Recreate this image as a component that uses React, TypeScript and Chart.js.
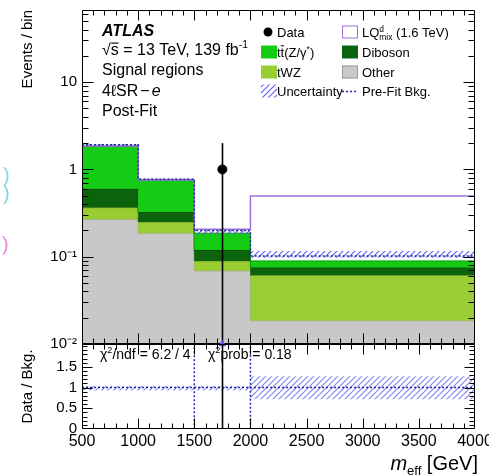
import React, { useEffect, useRef } from 'react';
import { Chart, registerables } from 'chart.js';

Chart.register(...registerables);

const FONT = "'Liberation Sans', Arial, Helvetica, sans-serif";

// ---------------- data ----------------
const binEdges = [500, 1000, 1500, 2000, 4000];
const otherYields = [0.268, 0.186, 0.069, 0.0185];
const tWZYields = [0.097, 0.064, 0.0205, 0.043];
const dibosonYields = [0.235, 0.075, 0.0295, 0.0135];
const ttZYields = [1.25, 0.43, 0.067, 0.0145];
const lqSignalYields = [0, 0, 0.02, 0.405];
const preFitBkg = [1.92, 0.77, 0.2, 0.102];
const uncertaintyLow = [1.8, 0.735, 0.18, 0.097];
const uncertaintyHigh = [1.95, 0.785, 0.205, 0.116];
const dataEvents = [0, 0, 1, 0];
const dataErrUp = [0, 0, 1.0, 0];
const dataErrDown = [0, 0, 1.0, 0];
const ratioUncLow = [0.93, 0.93, 0.93, 0.72];
const ratioUncHigh = [1.04, 1.04, 1.04, 1.27];
const preFitRatio = [1, 1, 1, 1];

const xTickValues = [500, 1000, 1500, 2000, 2500, 3000, 3500, 4000];
const xTickLabels = ['500', '1000', '1500', '2000', '2500', '3000', '3500', '4000'];
const yTickValues = [0.01, 0.1, 1, 10];
const yTickLabels = ['10\u207B\u00B2', '10\u207B\u00B9', '1', '10'];
const ratioTickValues = [0, 0.5, 1, 1.5];
const ratioTickLabels = ['0', '0.5', '1', '1.5'];

const yMin = 0.01;
const yMax = 67;
const ratioMin = 0;
const ratioMax = 2.05;
const xMinorStep = 100;
const ratioMinorStep = 0.1;

// ---------------- derived ----------------
const cumulate = (arrs: number[][]) => arrs[0].map((_, i) => arrs.reduce((s, a) => s + a[i], 0));
const stackOther = otherYields;
const stackTWZ = cumulate([otherYields, tWZYields]);
const stackDiboson = cumulate([otherYields, tWZYields, dibosonYields]);
const stackTotal = cumulate([otherYields, tWZYields, dibosonYields, ttZYields]);
const stackSignal = cumulate([stackTotal, lqSignalYields]);
const binCenters = binEdges.slice(0, -1).map((e, i) => (e + binEdges[i + 1]) / 2);
const ratioData = dataEvents.map((n, i) => n / stackTotal[i]);
// point at each low edge carries that bin's value; last edge repeats the last bin
const step = (vals: number[]) => binEdges.map((x, i) => ({ x, y: vals[Math.min(i, vals.length - 1)] }));

// ---------------- helpers ----------------
function makeHatch(ctx: CanvasRenderingContext2D, color: string, s: number) {
  const c = document.createElement('canvas');
  c.width = s;
  c.height = s;
  const g = c.getContext('2d')!;
  g.strokeStyle = color;
  g.lineWidth = 1.1;
  g.beginPath();
  g.moveTo(0, s);
  g.lineTo(s, 0);
  g.moveTo(-1, 1);
  g.lineTo(1, -1);
  g.moveTo(s - 1, s + 1);
  g.lineTo(s + 1, s - 1);
  g.stroke();
  return ctx.createPattern(c, 'repeat')!;
}

type Seg = { t: string; k?: 'sup' | 'sub'; it?: boolean; b?: boolean; hold?: boolean; bar?: number; pre?: number; post?: number };
function drawRich(ctx: CanvasRenderingContext2D, x: number, y: number, segs: Seg[], base: number) {
  let cx = x;
  for (const s of segs) {
    const size = s.k ? base * 0.65 : base;
    const dy = s.k === 'sup' ? -base * 0.42 : s.k === 'sub' ? base * 0.25 : 0;
    ctx.font = `${s.it ? 'italic ' : ''}${s.b ? 'bold ' : ''}${size}px ${FONT}`;
    cx += s.pre || 0;
    ctx.fillText(s.t, cx, y + dy);
    const w = ctx.measureText(s.t).width;
    if (s.bar) {
      ctx.fillRect(cx + w * 0.05, y - size * s.bar, w * 0.9, Math.max(1, size * 0.07));
    }
    if (!s.hold) cx += w + (s.post || 0);
  }
  return cx;
}

function logMinors(min: number, max: number) {
  const out: number[] = [];
  for (let d = Math.floor(Math.log10(min)); d <= Math.ceil(Math.log10(max)); d++) {
    for (let k = 2; k <= 9; k++) {
      const v = k * Math.pow(10, d);
      if (v > min && v < max) out.push(v);
    }
  }
  return out;
}
function linMinors(min: number, max: number, stepV: number, majors: number[]) {
  const out: number[] = [];
  for (let v = min; v <= max + 1e-9; v += stepV) {
    const r = Math.round(v * 1000) / 1000;
    if (!majors.some((m) => Math.abs(m - r) < 1e-6)) out.push(r);
  }
  return out;
}

type TickOpts = { yMajor: number[]; yMinor: number[]; xMajor: number[]; xMinor: number[]; yMaj: number; yMin: number; xMaj: number; xMin: number };
function drawFrame(ctx: CanvasRenderingContext2D, chart: any, o: TickOpts) {
  const { left, right, top, bottom } = chart.chartArea;
  const xs = chart.scales.x;
  const ys = chart.scales.y;
  const L = left + 0.5, R = right - 0.5, T = top + 0.5, B = bottom - 0.5;
  ctx.save();
  ctx.strokeStyle = '#000';
  ctx.lineWidth = 1;
  ctx.beginPath();
  ctx.rect(L, T, R - L, B - T);
  const yl: [number[], number][] = [[o.yMajor, o.yMaj], [o.yMinor, o.yMin]];
  for (const [vals, len] of yl) {
    for (const v of vals) {
      const p = Math.round(ys.getPixelForValue(v)) + 0.5;
      if (p < top || p > bottom) continue;
      ctx.moveTo(L, p); ctx.lineTo(L + len, p);
      ctx.moveTo(R, p); ctx.lineTo(R - len, p);
    }
  }
  const xl: [number[], number][] = [[o.xMajor, o.xMaj], [o.xMinor, o.xMin]];
  for (const [vals, len] of xl) {
    for (const v of vals) {
      const p = Math.round(xs.getPixelForValue(v)) + 0.5;
      if (p < left || p > right) continue;
      ctx.moveTo(p, B); ctx.lineTo(p, B - len);
      ctx.moveTo(p, T); ctx.lineTo(p, T + len);
    }
  }
  ctx.stroke();
  ctx.restore();
}

const COLORS = {
  other: '#c8c8c8', otherB: '#9c9c9c',
  twz: '#9acd32', twzB: '#6b8f22',
  dib: '#0b640b', dibB: '#064406',
  ttz: '#14cc14', ttzB: '#0c9a0c',
  lq: '#a070dc', prefit: '#2424a8', hatchMain: '#5c5cf0', hatchRatio: '#8080f2',
};

export default function App() {
  const refA = useRef<HTMLCanvasElement>(null);
  const refB = useRef<HTMLCanvasElement>(null);

  useEffect(() => {
    Chart.defaults.font.family = FONT;
    Chart.defaults.color = '#000';
    const ctxA = refA.current!.getContext('2d')!;
    const ctxB = refB.current!.getContext('2d')!;
    const hatchA = makeHatch(ctxA, COLORS.hatchMain, 6);
    const hatchB = makeHatch(ctxB, COLORS.hatchRatio, 6);
    const line = { stepped: 'before' as const, pointRadius: 0, tension: 0 };
    const DATA_IDX = 8;

    const mainDecor = {
      id: 'mainDecor',
      beforeDatasetDraw(chart: any, args: any) {
        if (args.index !== DATA_IDX) return;
        const { ctx, chartArea } = chart;
        const ys = chart.scales.y, xs = chart.scales.x;
        ctx.save();
        ctx.beginPath();
        ctx.rect(chartArea.left, chartArea.top, chartArea.right - chartArea.left, chartArea.bottom - chartArea.top);
        ctx.clip();
        ctx.strokeStyle = '#000';
        ctx.lineWidth = 1.6;
        dataEvents.forEach((n, i) => {
          if (n <= 0) return;
          const px = Math.round(xs.getPixelForValue(binCenters[i])) + 0.5;
          const hi = n + dataErrUp[i];
          const lo = n - dataErrDown[i];
          const pHi = ys.getPixelForValue(hi);
          const pLo = lo > 0 ? ys.getPixelForValue(lo) : chartArea.bottom;
          ctx.beginPath();
          ctx.moveTo(px, pHi);
          ctx.lineTo(px, pLo);
          ctx.stroke();
        });
        ctx.restore();
      },
      afterDraw(chart: any) {
        const ctx: CanvasRenderingContext2D = chart.ctx;
        drawFrame(ctx, chart, {
          yMajor: yTickValues, yMinor: logMinors(yMin, yMax),
          xMajor: xTickValues, xMinor: linMinors(binEdges[0], binEdges[binEdges.length - 1], xMinorStep, xTickValues),
          yMaj: 11, yMin: 6, xMaj: 10, xMin: 5,
        });
        ctx.save();
        ctx.fillStyle = '#000';
        ctx.strokeStyle = '#000';
        ctx.textBaseline = 'alphabetic';
        // ATLAS label block
        drawRich(ctx, 102, 36, [{ t: 'ATLAS', it: true, b: true }], 16);
        drawRich(ctx, 102, 55, [{ t: '\u221A' }, { t: 's', bar: 0.78 }, { t: ' = 13 TeV, 139 fb' }, { t: '-1', k: 'sup' }], 16);
        drawRich(ctx, 102, 75, [{ t: 'Signal regions' }], 16);
        drawRich(ctx, 102, 96, [{ t: '4\u2113SR' }, { t: '\u2212', pre: 2, post: 2 }, { t: 'e', it: true }], 16);
        drawRich(ctx, 102, 116, [{ t: 'Post-Fit' }], 16);

        // legend
        const fs = 13;
        const c1 = 261, c2 = 342, bw = 14, bh = 13;
        const rows = [32, 52, 72, 91];
        const tx1 = 277, tx2 = 362;
        ctx.beginPath();
        ctx.arc(c1 + bw / 2, rows[0], 4.5, 0, Math.PI * 2);
        ctx.fill();
        drawRich(ctx, tx1, rows[0] + 5, [{ t: 'Data' }], fs);
        ctx.fillStyle = '#fff';
        ctx.fillRect(c2, rows[0] - bh / 2, bw + 2, bh);
        ctx.strokeStyle = COLORS.lq;
        ctx.lineWidth = 1;
        ctx.strokeRect(c2 + 0.5, rows[0] - bh / 2 + 0.5, bw + 1, bh - 1);
        ctx.fillStyle = '#000';
        drawRich(ctx, tx2, rows[0] + 5, [{ t: 'LQ' }, { t: 'd', k: 'sup', hold: true }, { t: 'mix', k: 'sub' }, { t: ' (1.6 TeV)' }], fs);
        const box = (x: number, y: number, fill: any, stroke?: string) => {
          ctx.fillStyle = fill;
          ctx.fillRect(x, y - bh / 2, bw + 2, bh);
          if (stroke) {
            ctx.strokeStyle = stroke;
            ctx.lineWidth = 1;
            ctx.strokeRect(x + 0.5, y - bh / 2 + 0.5, bw + 1, bh - 1);
          }
          ctx.fillStyle = '#000';
        };
        box(c1, rows[1], COLORS.ttz);
        drawRich(ctx, tx1, rows[1] + 5, [{ t: 't' }, { t: 't', bar: 0.9 }, { t: '(Z/\u03B3' }, { t: '*', k: 'sup' }, { t: ')' }], fs);
        box(c2, rows[1], COLORS.dib);
        drawRich(ctx, tx2, rows[1] + 5, [{ t: 'Diboson' }], fs);
        box(c1, rows[2], COLORS.twz);
        drawRich(ctx, tx1, rows[2] + 5, [{ t: 'tWZ' }], fs);
        box(c2, rows[2], COLORS.other, '#9c9c9c');
        drawRich(ctx, tx2, rows[2] + 5, [{ t: 'Other' }], fs);
        box(c1, rows[3], hatchA);
        drawRich(ctx, tx1, rows[3] + 5, [{ t: 'Uncertainty' }], fs);
        ctx.strokeStyle = COLORS.prefit;
        ctx.lineWidth = 1.5;
        ctx.setLineDash([2, 2]);
        ctx.beginPath();
        ctx.moveTo(c2, rows[3] + 0.5);
        ctx.lineTo(c2 + bw + 2, rows[3] + 0.5);
        ctx.stroke();
        ctx.setLineDash([]);
        drawRich(ctx, tx2, rows[3] + 5, [{ t: 'Pre-Fit Bkg.' }], fs);

        // stray slide marks at the left edge
        ctx.font = `20px ${FONT}`;
        ctx.fillStyle = '#86d6e6';
        ctx.fillText(')', 3, 182);
        ctx.fillText(')', 3, 200);
        ctx.fillStyle = '#e58ae8';
        ctx.fillText(')', 2, 251);
        ctx.restore();
      },
    };

    const ratioDecor = {
      id: 'ratioDecor',
      afterDatasetsDraw(chart: any) {
        const { ctx, chartArea } = chart;
        const ys = chart.scales.y, xs = chart.scales.x;
        ctx.save();
        ctx.beginPath();
        ctx.rect(chartArea.left, chartArea.top, chartArea.right - chartArea.left, chartArea.bottom - chartArea.top);
        ctx.clip();
        ctx.strokeStyle = '#000';
        ctx.lineWidth = 1.6;
        dataEvents.forEach((n, i) => {
          if (n <= 0) return;
          const px = Math.round(xs.getPixelForValue(binCenters[i])) + 0.5;
          const hi = (n + dataErrUp[i]) / stackTotal[i];
          const lo = (n - dataErrDown[i]) / stackTotal[i];
          ctx.beginPath();
          ctx.moveTo(px, ys.getPixelForValue(hi));
          ctx.lineTo(px, ys.getPixelForValue(lo));
          ctx.stroke();
        });
        ctx.restore();
      },
      afterDraw(chart: any) {
        const ctx: CanvasRenderingContext2D = chart.ctx;
        drawFrame(ctx, chart, {
          yMajor: ratioTickValues, yMinor: linMinors(ratioMin, ratioMax, ratioMinorStep, ratioTickValues),
          xMajor: xTickValues, xMinor: linMinors(binEdges[0], binEdges[binEdges.length - 1], xMinorStep, xTickValues),
          yMaj: 10, yMin: 5, xMaj: 10, xMin: 5,
        });
        ctx.save();
        ctx.fillStyle = '#000';
        ctx.textBaseline = 'alphabetic';
        drawRich(ctx, 100, 29, [{ t: '\u03C7' }, { t: '2', k: 'sup' }, { t: '/ndf = 6.2 / 4' }], 14);
        drawRich(ctx, 208, 29, [{ t: '\u03C7' }, { t: '2', k: 'sup' }, { t: 'prob = 0.18' }], 14);
        ctx.font = `italic 20px ${FONT}`;
        const wm = ctx.measureText('m').width;
        ctx.font = `13px ${FONT}`;
        const we = ctx.measureText('eff').width;
        ctx.font = `20px ${FONT}`;
        const wg = ctx.measureText(' [GeV]').width;
        const xStart = 478 - (wm + we + wg);
        drawRich(ctx, xStart, 140, [{ t: 'm', it: true }, { t: 'eff', k: 'sub' }, { t: ' [GeV]' }], 20);
        ctx.restore();
      },
    };

    const chartA = new Chart(ctxA, {
      type: 'line',
      data: {
        datasets: [
          { ...line, label: 'Other', data: step(stackOther), fill: 'start', backgroundColor: COLORS.other, borderColor: COLORS.otherB, borderWidth: 1, order: 10 },
          { ...line, label: 'tWZ', data: step(stackTWZ), fill: '-1', backgroundColor: COLORS.twz, borderColor: COLORS.twzB, borderWidth: 1, order: 9 },
          { ...line, label: 'Diboson', data: step(stackDiboson), fill: '-1', backgroundColor: COLORS.dib, borderColor: COLORS.dibB, borderWidth: 1, order: 8 },
          { ...line, label: 'ttZ', data: step(stackTotal), fill: '-1', backgroundColor: COLORS.ttz, borderColor: COLORS.ttzB, borderWidth: 1, order: 7 },
          { ...line, label: 'uncLow', data: step(uncertaintyLow), fill: false, borderColor: 'rgba(0,0,0,0)', borderWidth: 1, order: 6 },
          { ...line, label: 'Uncertainty', data: step(uncertaintyHigh), fill: '-1', backgroundColor: hatchA, borderColor: 'rgba(0,0,0,0)', borderWidth: 1, order: 5 },
          { ...line, label: 'LQ', data: step(stackSignal), fill: false, borderColor: COLORS.lq, borderWidth: 1.5, order: 4 },
          { ...line, label: 'Pre-Fit Bkg.', data: step(preFitBkg), fill: false, borderColor: COLORS.prefit, borderWidth: 1.5, borderDash: [2, 2], order: 3 },
          {
            label: 'Data',
            data: dataEvents.map((n, i) => ({ x: binCenters[i], y: n })).filter((p) => p.y > 0),
            showLine: false, pointRadius: 4.5, pointBackgroundColor: '#000', pointBorderColor: '#000', borderColor: '#000', order: 1,
          },
        ],
      } as any,
      options: {
        responsive: false,
        animation: false,
        devicePixelRatio: 1,
        events: [],
        layout: { padding: { left: 0, top: 10, right: 14, bottom: 16 } },
        plugins: { legend: { display: false }, tooltip: { enabled: false } },
        scales: {
          x: { type: 'linear', min: binEdges[0], max: binEdges[binEdges.length - 1], display: false },
          y: {
            type: 'logarithmic', min: yMin, max: yMax, bounds: 'data',
            grid: { display: false, drawTicks: false }, border: { display: false },
            afterBuildTicks: (s: any) => { s.ticks = yTickValues.map((v) => ({ value: v })); },
            afterFit: (s: any) => { s.width = 82; s.paddingTop = 0; s.paddingBottom = 0; },
            ticks: { autoSkip: false, padding: 5, font: { size: 15 }, color: '#000', callback: (_v: any, i: number) => yTickLabels[i] },
            title: { display: true, text: 'Events / bin', align: 'end', font: { size: 15 }, color: '#000', padding: { top: 19, bottom: 0 } },
          },
        },
      } as any,
      plugins: [mainDecor],
    });

    const chartB = new Chart(ctxB, {
      type: 'line',
      data: {
        datasets: [
          { ...line, label: 'ratioUncLow', data: step(ratioUncLow), fill: false, borderColor: 'rgba(0,0,0,0)', borderWidth: 1, order: 6 },
          { ...line, label: 'ratioUnc', data: step(ratioUncHigh), fill: '-1', backgroundColor: hatchB, borderColor: 'rgba(0,0,0,0)', borderWidth: 1, order: 5 },
          { ...line, label: 'preFitRatio', data: step(preFitRatio), fill: false, borderColor: COLORS.prefit, borderWidth: 1.5, borderDash: [2, 2], order: 3 },
          { ...line, label: 'dataRatio', data: step(ratioData), fill: false, borderColor: COLORS.prefit, borderWidth: 1.5, borderDash: [2, 2], order: 2 },
          {
            label: 'offscale',
            data: ratioData.map((r, i) => ({ x: binCenters[i], y: r })).filter((p) => p.y > ratioMax).map((p) => ({ x: p.x, y: ratioMax })),
            showLine: false, clip: false, pointStyle: 'triangle', pointRadius: 3.5, pointBackgroundColor: '#5a5ae6', pointBorderColor: '#5a5ae6', order: 1,
          },
        ],
      } as any,
      options: {
        responsive: false,
        animation: false,
        devicePixelRatio: 1,
        events: [],
        layout: { padding: { left: 0, top: 14, right: 14, bottom: 0 } },
        plugins: { legend: { display: false }, tooltip: { enabled: false } },
        scales: {
          x: {
            type: 'linear', min: binEdges[0], max: binEdges[binEdges.length - 1], bounds: 'data',
            grid: { display: false, drawTicks: false }, border: { display: false },
            afterBuildTicks: (s: any) => { s.ticks = xTickValues.map((v) => ({ value: v })); },
            afterFit: (s: any) => { s.height = 46; s.paddingLeft = 0; s.paddingRight = 0; },
            ticks: { autoSkip: false, maxRotation: 0, minRotation: 0, padding: 3, font: { size: 16 }, color: '#000', callback: (_v: any, i: number) => xTickLabels[i] },
          },
          y: {
            type: 'linear', min: ratioMin, max: ratioMax, bounds: 'data',
            grid: { display: false, drawTicks: false }, border: { display: false },
            afterBuildTicks: (s: any) => { s.ticks = ratioTickValues.map((v) => ({ value: v })); },
            afterFit: (s: any) => { s.width = 82; s.paddingTop = 0; s.paddingBottom = 0; },
            ticks: { autoSkip: false, padding: 5, font: { size: 15 }, color: '#000', callback: (_v: any, i: number) => ratioTickLabels[i] },
            title: { display: true, text: 'Data / Bkg.', align: 'center', font: { size: 15 }, color: '#000', padding: { top: 19, bottom: 0 } },
          },
        },
      } as any,
      plugins: [ratioDecor],
    });

    return () => {
      chartA.destroy();
      chartB.destroy();
    };
  }, []);

  return (
    <div style={{ position: 'fixed', left: 0, top: 0, width: 489, height: 475, background: '#fff', overflow: 'hidden' }}>
      <canvas ref={refA} width={489} height={360} style={{ position: 'absolute', left: 0, top: 0 }} />
      <canvas ref={refB} width={489} height={145} style={{ position: 'absolute', left: 0, top: 330 }} />
    </div>
  );
}
